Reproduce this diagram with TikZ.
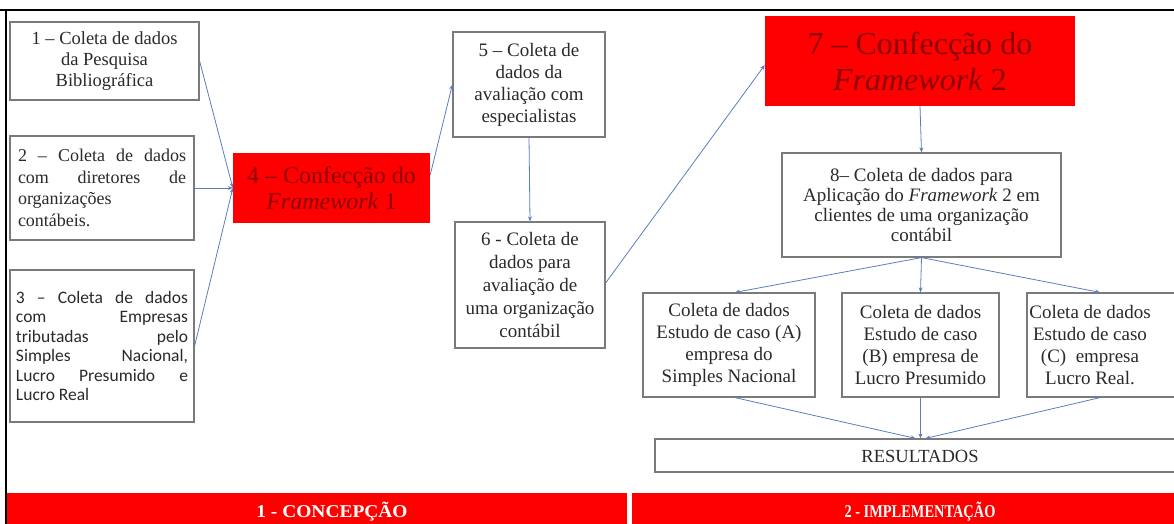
\documentclass[tikz,border=0pt]{standalone}
\usepackage{fontspec}
\setmainfont{Liberation Serif}
\newfontfamily\calib{Carlito}
\usetikzlibrary{arrows.meta,calc}
\definecolor{boxred}{HTML}{FF0000}
\definecolor{txtred}{HTML}{8A0000}
\definecolor{linkblue}{HTML}{5A7EC0}
\definecolor{edgegray}{HTML}{7A7A7A}
\definecolor{txtgray}{HTML}{2A2A2A}
\begin{document}
\begin{tikzpicture}[x=1pt,y=-1pt,
  wbox/.style={draw=edgegray,line width=1.2pt,fill=white,inner sep=0pt,text=txtgray,align=center},
  rbox/.style={fill=boxred,inner sep=0pt,text=txtred,align=center},
  link/.style={draw=linkblue,line width=0.8pt,-{Stealth[length=5pt,width=4pt]}},
  bar/.style={fill=boxred,inner sep=0pt},
  bartext/.style={text=white,inner sep=0pt,font={\fontsize{18}{20}\selectfont\bfseries}},
  fs18/.style={font={\fontsize{18.5}{21}\selectfont}},
  fs19/.style={font={\fontsize{19}{22}\selectfont}}]
\useasboundingbox (0,0) rectangle (1174,524);
\clip (0,0) rectangle (1174,524);

% frame
\draw[line width=2pt,black] (0,10) -- (1174,10);
\draw[line width=2pt,black] (6,10) -- (6,524);

% left column
\node[wbox,fs18,minimum width=189pt,minimum height=78pt] (n1) at (104.5,61)
  {1 – Coleta de dados\\da Pesquisa\\Bibliográfica};
\node[wbox,font={\fontsize{18}{21.5}\selectfont},minimum width=184pt,minimum height=104pt] (n2) at (102,188)
  {\makebox[168pt][s]{2 – Coleta de dados}\\\makebox[168pt][s]{com diretores de}\\\makebox[168pt][l]{organizações}\\\makebox[168pt][l]{contábeis.}};
\node[wbox,font={\calib\fontsize{17.5}{19.5}\selectfont},minimum width=184pt,minimum height=152pt] (n3) at (102,346)
  {\makebox[172pt][s]{3 – Coleta de dados}\\\makebox[172pt][s]{com Empresas}\\\makebox[172pt][s]{tributadas pelo}\\\makebox[172pt][s]{Simples Nacional,}\\\makebox[172pt][s]{Lucro Presumido e}\\\makebox[172pt][l]{Lucro Real}};

% framework 1
\node[rbox,font={\fontsize{24}{26}\selectfont},minimum width=197pt,minimum height=70pt] (n4) at (331.5,188)
  {4 – Confecção do\\\textit{Framework} 1};

% middle column
\node[wbox,fs19,minimum width=152pt,minimum height=105pt] (n5) at (529,84.5)
  {5 – Coleta de\\dados da\\avaliação com\\especialistas};
\node[wbox,font={\fontsize{19}{23}\selectfont},minimum width=150pt,minimum height=126pt] (n6) at (530,285)
  {6 - Coleta de\\dados para\\avaliação de\\uma organização\\contábil};

% framework 2
\node[rbox,font={\fontsize{32}{36}\selectfont},minimum width=310pt,minimum height=90pt] (n7) at (920,61)
  {7 – Confecção do\\\textit{Framework} 2};
\node[wbox,font={\fontsize{19}{20}\selectfont},minimum width=279pt,minimum height=104pt] (n8) at (921.5,205)
  {8– Coleta de dados para\\Aplicação do \textit{Framework} 2 em\\clientes de uma organização\\contábil};

% case studies
\node[wbox,fs19,minimum width=172pt,minimum height=104pt] (nA) at (729,345)
  {Coleta de dados\\Estudo de caso (A)\\empresa do\\Simples Nacional};
\node[wbox,fs19,minimum width=157pt,minimum height=104pt] (nB) at (920.5,345)
  {Coleta de dados\\Estudo de caso\\(B) empresa de\\Lucro Presumido};
\node[wbox,minimum width=163pt,minimum height=104pt] (nC) at (1108.5,345) {};
\node[text=txtgray,align=center,inner sep=0pt,fs19] (tC) at (1090,345)
  {Coleta de dados\\Estudo de caso\\(C)\ \ empresa\\Lucro Real.};

% results
\node[wbox,minimum width=531pt,minimum height=33pt] (nR) at (920.5,455.5) {};
\node[text=txtgray,inner sep=0pt,fs18] (tR) at (920,456) {RESULTADOS};

% bottom bars
\node[bar,minimum width=620pt,minimum height=37pt] (b1) at (317,511.5) {};
\node[bar,minimum width=560pt,minimum height=37pt] (b2) at (912,511.5) {};
\node[bartext] (t1) at (332,512) {\scalebox{1.08}[1]{1 - CONCEPÇÃO}};
\node[bartext] (t2) at (920,512) {\scalebox{0.8}[1]{2 - IMPLEMENTAÇÃO}};

% connectors
\draw[link] (n1.east) -- (n4.west);
\draw[link] (n2.east) -- (n4.west);
\draw[link] (n3.east) -- (n4.west);
\draw[link] ([yshift=13pt]n4.east) -- (n5.west);
\draw[link] (n5.south) -- (n6.north);
\draw[link] ([yshift=2pt]n6.east) -- ([yshift=-4pt]n7.west);
\draw[link] (n7.south) -- (n8.north);
\draw[link] (n8.south) -- ([xshift=6pt]nA.north);
\draw[link] (n8.south) -- (nB.north);
\draw[link] (n8.south) -- ([xshift=-8.5pt]nC.north);
\draw[link] ([xshift=6pt]nA.south) -- ([xshift=-5pt]nR.north);
\draw[link] (nB.south) -- (nR.north);
\draw[link] ([xshift=-8.5pt]nC.south) -- ([xshift=5pt]nR.north);
\end{tikzpicture}
\end{document}
